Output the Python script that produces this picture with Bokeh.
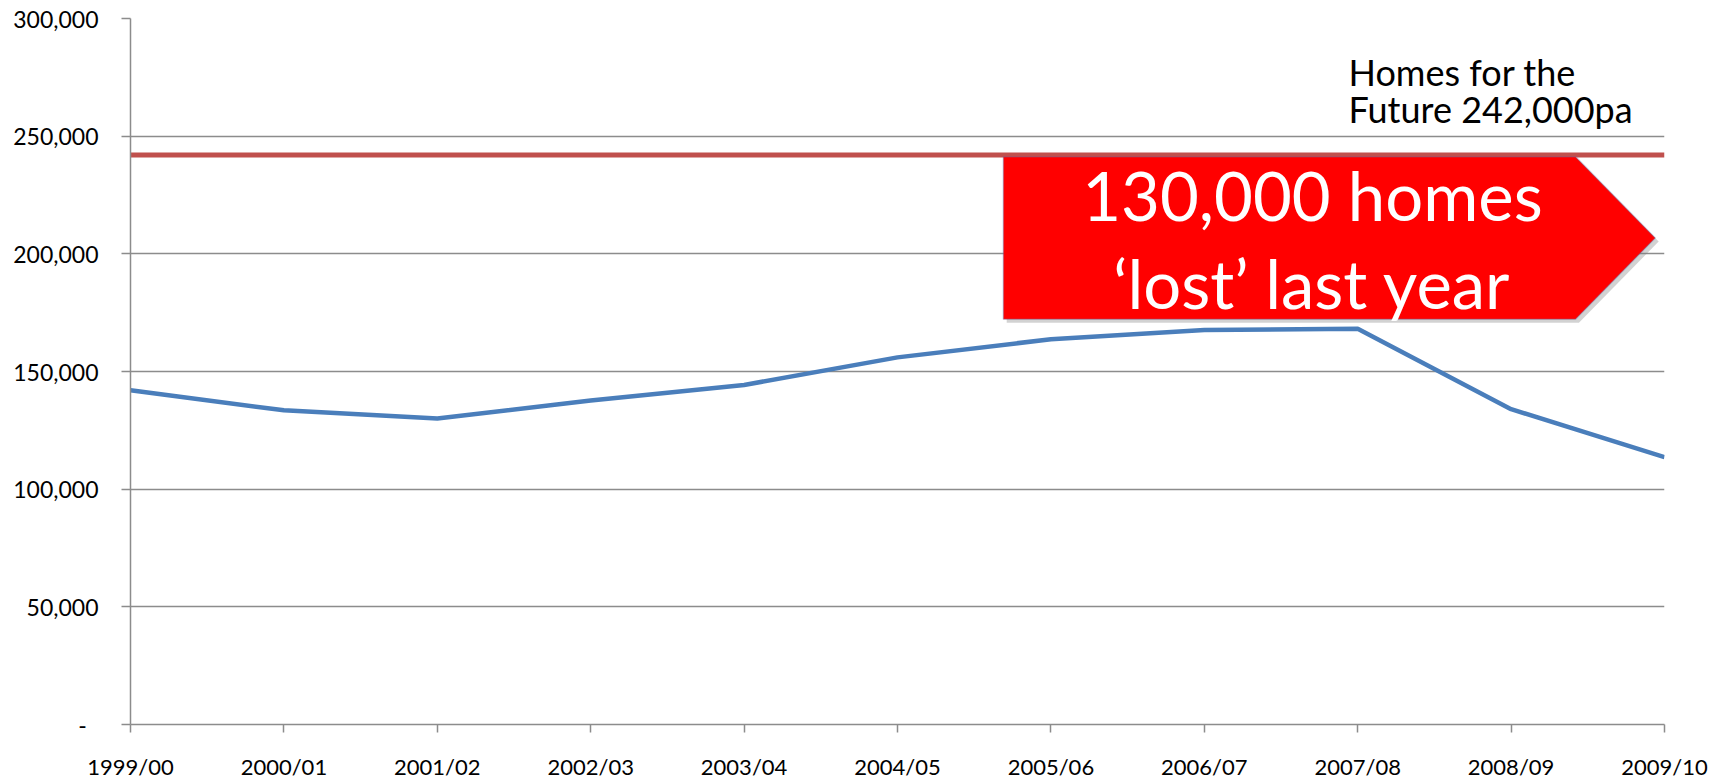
from bokeh.plotting import figure
from bokeh.models import Range1d, FixedTicker, NumeralTickFormatter, Label, PolyAnnotation
from bokeh.embed import file_html
from bokeh.resources import INLINE

# ---- data ----
years = ["1999/00", "2000/01", "2001/02", "2002/03", "2003/04", "2004/05",
         "2005/06", "2006/07", "2007/08", "2008/09", "2009/10"]
completions = [142000, 133500, 130000, 137700, 144300, 156000,
               163700, 167600, 168200, 134000, 113600]
target = 242000
target_label = ["Homes for the", "Future 242,000pa"]
callout = ["130,000 homes", "\u2018lost\u2019 last year"]
y_ticks = [0, 50000, 100000, 150000, 200000, 250000, 300000]

x = list(range(len(years)))

GRID = "#8C8C8C"
FONT = "Lato"

p = figure(width=1729, height=782, output_backend="svg", toolbar_location=None,
           x_range=Range1d(0, len(years) - 1), y_range=Range1d(0, 300000),
           min_border_left=130, min_border_right=65, min_border_top=18,
           min_border_bottom=55)
p.outline_line_color = None
p.background_fill_color = "white"
p.border_fill_color = "white"

# lines
p.line(x, [target] * len(x), line_color="#C0504D", line_width=5)
p.line(x, completions, line_color="#4A7EBB", line_width=4.5, line_join="round")

# axes
p.xaxis.ticker = FixedTicker(ticks=x)
p.xaxis.major_label_overrides = {i: years[i] for i in x}
p.yaxis.ticker = FixedTicker(ticks=y_ticks)
p.yaxis.formatter = NumeralTickFormatter(format="0,0")
p.yaxis.major_label_overrides = {0: "-\u00a0\u00a0"}
for ax in (p.xaxis[0], p.yaxis[0]):
    ax.axis_line_color = GRID
    ax.axis_line_width = 1.5
    ax.major_tick_line_color = GRID
    ax.major_tick_line_width = 1.5
    ax.major_tick_in = 0
    ax.minor_tick_line_color = None
    ax.major_label_text_font = FONT
    ax.major_label_text_color = "black"
p.yaxis.major_tick_out = 9
p.yaxis.major_label_standoff = 23
p.yaxis.major_label_text_font_size = "23px"
p.xaxis.major_tick_out = 8
p.xaxis.major_label_standoff = 20
p.xaxis.major_label_text_font_size = "22px"

p.xgrid.grid_line_color = None
p.ygrid.ticker = FixedTicker(ticks=y_ticks)
p.ygrid.grid_line_color = GRID
p.ygrid.grid_line_width = 1.5

# callout arrow (home-plate shape)
bl, br, tip = 5.69, 9.42, 9.94
top, bot = 241300, 172200
mid = (top + bot) / 2
dx, dy = 0.022, -1500
shadow = PolyAnnotation(xs=[bl + dx, br + dx, tip + dx, br + dx, bl + dx],
                        ys=[top + dy, top + dy, mid + dy, bot + dy, bot + dy],
                        fill_color="#7F7F7F", fill_alpha=0.35, line_color=None)
box = PolyAnnotation(xs=[bl, br, tip, br, bl], ys=[top, top, mid, bot, bot],
                     fill_color="#FF0000", fill_alpha=1.0,
                     line_color="#4F81BD", line_width=1.5)
p.add_layout(shadow)
p.add_layout(box)

p.add_layout(Label(x=7.705, y=225100, text=callout[0], text_align="center",
                   text_baseline="alphabetic", text_color="white",
                   text_font=FONT, text_font_size="67px"))
p.add_layout(Label(x=7.705, y=187600, text=callout[1], text_align="center",
                   text_baseline="alphabetic", text_color="white",
                   text_font=FONT, text_font_size="67px"))

p.add_layout(Label(x=7.94, y=277200, text=target_label[0], text_align="left",
                   text_baseline="alphabetic", text_color="black",
                   text_font=FONT, text_font_size="36px"))
p.add_layout(Label(x=7.94, y=261500, text=target_label[1], text_align="left",
                   text_baseline="alphabetic", text_color="black",
                   text_font=FONT, text_font_size="36px"))

open("out.html", "w").write(file_html(p, INLINE))
